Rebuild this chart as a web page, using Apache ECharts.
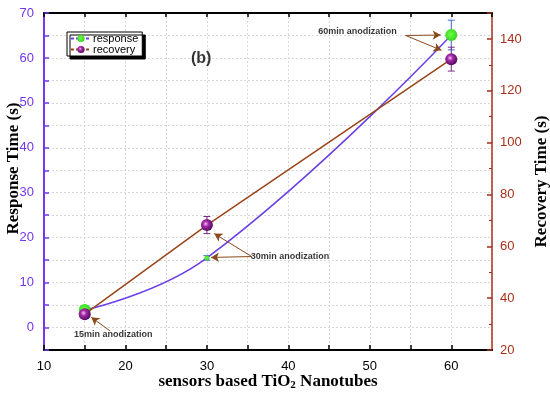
<!DOCTYPE html>
<html>
<head>
<meta charset="utf-8">
<script src="https://cdn.jsdelivr.net/npm/echarts@6/dist/echarts.min.js"></script>
<style>
html,body{margin:0;padding:0;background:#fff;}
#chart{width:550px;height:396px;}
</style>
</head>
<body>
<div id="chart"></div>
<script>
// ---- data ----
const sensors = [15, 30, 60];                 // anodization time (min)
const responseTime = [3.9, 15.5, 65.1];        // s, left axis
const responseErr = [0.4, 0.5, 3.3];
const recoveryTime = [33.8, 68.2, 132.2];      // s, right axis
const recoveryErr = [0.8, 3.3, 4.6];
const xTicks = [10, 20, 30, 40, 50, 60];
const leftTicks = [0, 10, 20, 30, 40, 50, 60, 70];
const rightTicks = [20, 40, 60, 80, 100, 120, 140];
const noteTexts = ['15min anodization', '30min anodization', '60min anodization'];
// annotation anchors in left-axis data units: [textX, textY]
const notePos = [[18.5, -1.5], [40.2, 15.8], [48.5, 65.9]];
// arrows: [fromX, fromY, toX, toY] in left-axis data units
const arrows = [
  [18.1, -0.75, 15.8, 2.3],
  [35.5, 15.8, 30.5, 15.6],
  [35.5, 15.8, 30.9, 20.9],
  [54.4, 65.0, 58.7, 65.1],
  [54.4, 65.0, 58.8, 61.7]
];

const LEFT_C = '#7338ee';
const RIGHT_C = '#a8301a';
const RESP_LINE = '#6b3fe6';
const REC_LINE = '#9a4418';
const ARROW_C = '#8a4a1c';

const chart = echarts.init(document.getElementById('chart'));

function errSeries(vals, errs, yIdx, color) {
  return {
    type: 'custom',
    yAxisIndex: yIdx,
    z: 3,
    data: sensors.map((x, i) => [x, vals[i] - errs[i], vals[i] + errs[i]]),
    renderItem: function (params, api) {
      const x = api.value(0);
      const p1 = api.coord([x, api.value(2)]);
      const p2 = api.coord([x, api.value(1)]);
      const w = 3.5;
      const st = { stroke: color, lineWidth: 1 };
      return {
        type: 'group',
        children: [
          { type: 'line', shape: { x1: p1[0], y1: p1[1], x2: p2[0], y2: p2[1] }, style: st },
          { type: 'line', shape: { x1: p1[0] - w, y1: p1[1], x2: p1[0] + w, y2: p1[1] }, style: st },
          { type: 'line', shape: { x1: p2[0] - w, y1: p2[1], x2: p2[0] + w, y2: p2[1] }, style: st }
        ]
      };
    }
  };
}

const gridLine = { show: true, lineStyle: { color: '#d8d8d8', type: [2, 2], width: 1 } };

const option = {
  animation: false,
  backgroundColor: '#fff',
  grid: { left: 44, right: 58, top: 13, bottom: 46, containLabel: false, outerBoundsMode: 'none' },
  legend: {
    data: ['response', 'recovery'],
    orient: 'vertical',
    left: 67, top: 32,
    itemWidth: 20, itemHeight: 9, itemGap: 0,
    padding: [1, 4, 1, 3],
    backgroundColor: '#fff',
    borderColor: '#000', borderWidth: 1, borderRadius: 0,
    shadowColor: '#000', shadowBlur: 0, shadowOffsetX: 3, shadowOffsetY: 3,
    textStyle: { fontFamily: 'Liberation Sans', fontSize: 11, color: '#000', padding: [0, 0, 0, -3] },
    lineStyle: { type: [3, 2] }
  },
  xAxis: [{
    type: 'value', min: 10, max: 65, interval: 5,
    axisLine: { show: true, onZero: false, lineStyle: { color: '#000', width: 2 } },
    axisTick: { show: true, inside: true, length: 5, lineStyle: { color: '#000', width: 1.5 } },
    axisLabel: {
      fontFamily: 'Liberation Sans', fontSize: 13, color: '#000', margin: 10,
      showMaxLabel: false,
      formatter: v => xTicks.includes(v) ? String(v) : ''
    },
    splitLine: gridLine,
    name: '{a|sensors based TiO}{s|2}{a| Nanotubes}',
    nameLocation: 'middle', nameGap: 22, nameMoveOverlap: false,
    nameTextStyle: {
      rich: {
        a: { fontFamily: 'Liberation Serif', fontWeight: 'bold', fontSize: 17, color: '#000' },
        s: { fontFamily: 'Liberation Serif', fontWeight: 'bold', fontSize: 11, color: '#000', padding: [8, 0, 0, 0] }
      }
    }
  }, {
    type: 'value', min: 10, max: 65, interval: 5, position: 'top',
    axisLine: { show: true, onZero: false, lineStyle: { color: '#000', width: 2 } },
    axisTick: { show: true, inside: true, length: 4, lineStyle: { color: '#000', width: 1.5 } },
    axisLabel: { show: false },
    splitLine: { show: false }
  }],
  yAxis: [{
    type: 'value', min: -5, max: 70, interval: 5, position: 'left',
    axisLine: { show: true, onZero: false, lineStyle: { color: LEFT_C, width: 2 } },
    axisTick: { show: true, inside: true, length: 5, lineStyle: { color: LEFT_C, width: 1.5 } },
    axisLabel: {
      fontFamily: 'Liberation Sans', fontSize: 13, color: LEFT_C, margin: 10,
      formatter: v => leftTicks.includes(v) ? String(v) : ''
    },
    splitLine: gridLine,
    name: 'Response Time (s)',
    nameLocation: 'middle', nameGap: 22, nameRotate: 90, nameMoveOverlap: false,
    nameTextStyle: { fontFamily: 'Liberation Serif', fontWeight: 'bold', fontSize: 17, color: '#000', padding: [0, 0, 0, 26] }
  }, {
    type: 'value', min: 20, max: 150, interval: 20, position: 'right',
    axisLine: { show: true, onZero: false, lineStyle: { color: RIGHT_C, width: 1.5 } },
    axisTick: { show: true, inside: true, length: 5, lineStyle: { color: RIGHT_C, width: 1.5 } },
    minorTick: { show: true, splitNumber: 2, length: 3, lineStyle: { color: RIGHT_C } },
    axisLabel: {
      fontFamily: 'Liberation Sans', fontSize: 13, color: RIGHT_C, margin: 8,
      showMaxLabel: false,
      formatter: v => rightTicks.includes(v) ? String(v) : ''
    },
    splitLine: { show: false },
    name: 'Recovery Time (s)',
    nameLocation: 'middle', nameGap: 41, nameRotate: 90, nameMoveOverlap: false,
    nameTextStyle: { fontFamily: 'Liberation Serif', fontWeight: 'bold', fontSize: 17, color: '#000' }
  }],
  series: [
    errSeries(responseTime, responseErr, 0, '#3a6ad8'),
    errSeries(recoveryTime, recoveryErr, 1, '#7a2a8a'),
    {
      name: 'response',
      type: 'line',
      yAxisIndex: 0,
      z: 4,
      smooth: 0.45,
      data: sensors.map((x, i) => [x, responseTime[i]]),
      lineStyle: { color: RESP_LINE, width: 1.5 },
      symbol: 'circle',
      symbolSize: (v, p) => (p.dataIndex === 1 ? 5 : 12),
      itemStyle: {
        color: {
          type: 'radial', x: 0.45, y: 0.45, r: 0.6,
          colorStops: [
            { offset: 0, color: '#6cff40' },
            { offset: 1, color: '#30d020' }
          ]
        },
        borderWidth: 0
      },
      markLine: {
        silent: true,
        symbol: ['none', 'arrow'],
        symbolSize: [7, 8],
        lineStyle: { color: ARROW_C, width: 1, type: 'solid' },
        label: { show: false },
        data: arrows.map(a => [{ coord: [a[0], a[1]] }, { coord: [a[2], a[3]] }])
      }
    },
    {
      name: 'recovery',
      type: 'line',
      yAxisIndex: 1,
      z: 5,
      data: sensors.map((x, i) => [x, recoveryTime[i]]),
      lineStyle: { color: REC_LINE, width: 1.5 },
      symbol: 'circle', symbolSize: 12,
      itemStyle: {
        color: {
          type: 'radial', x: 0.4, y: 0.4, r: 0.65,
          colorStops: [
            { offset: 0, color: '#f4c0f0' },
            { offset: 0.35, color: '#a42aa8' },
            { offset: 1, color: '#4a0858' }
          ]
        },
        borderWidth: 0
      }
    },
    {
      name: 'notes',
      type: 'scatter',
      yAxisIndex: 0,
      symbolSize: 0,
      z: 6,
      data: notePos.map((p, i) => ({ value: p, name: noteTexts[i] })),
      label: {
        show: true, position: 'inside', formatter: '{b}',
        fontFamily: 'Liberation Sans', fontWeight: 'bold', fontSize: 9, color: '#000'
      }
    },
    {
      name: 'panel',
      type: 'scatter',
      yAxisIndex: 0,
      symbolSize: 0,
      z: 6,
      data: [{ value: [29.3, 59.9], name: '(b)' }],
      label: {
        show: true, position: 'inside', formatter: '{b}',
        fontFamily: 'Liberation Sans', fontWeight: 'bold', fontSize: 16, color: '#000'
      }
    }
  ]
};
chart.setOption(option);
</script>
</body>
</html>
